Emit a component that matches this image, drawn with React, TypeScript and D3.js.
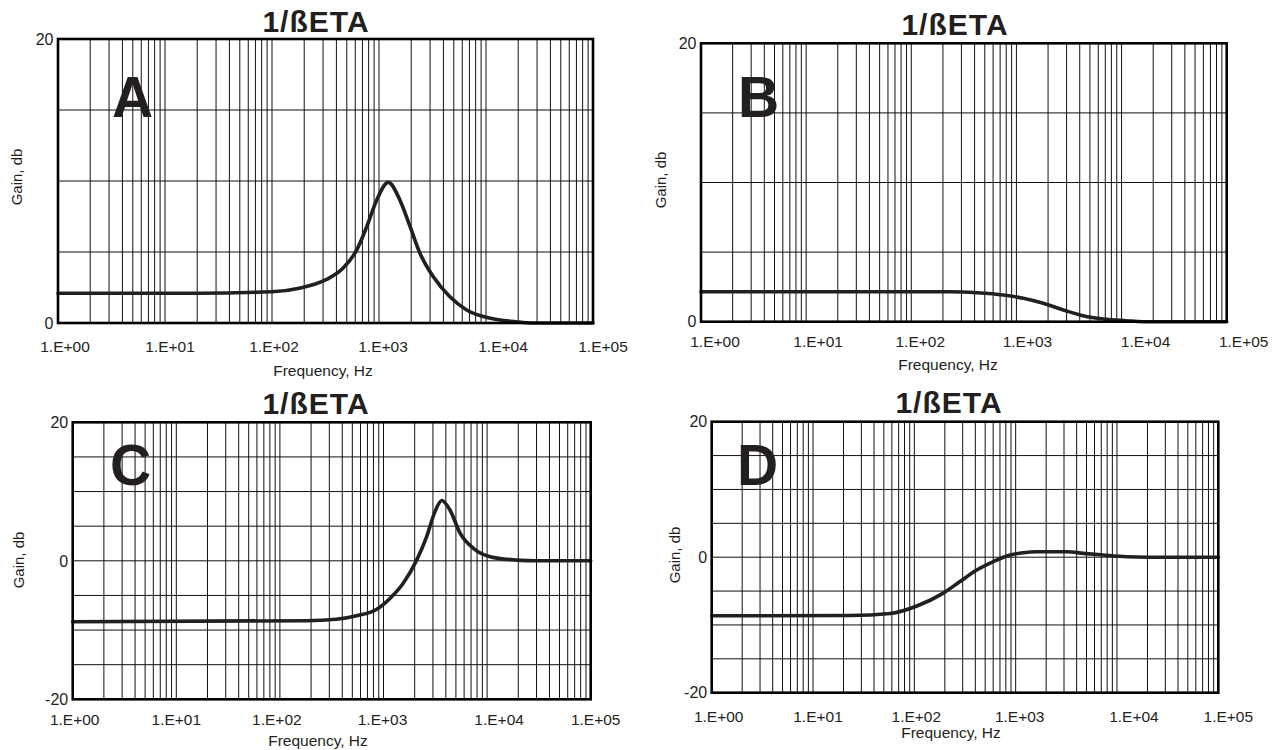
import React from "react";
import * as d3 from "d3";

// ---------- data ----------
const freqA = [1, 20, 100, 180, 320, 460, 620, 770, 950, 1220, 1570, 1950, 2420, 3220, 4600, 6600, 11000, 19000, 27000, 100000];
const gainA = [2.1, 2.1, 2.2, 2.45, 3.05, 3.85, 5.15, 6.8, 8.65, 9.9, 8.65, 6.8, 4.9, 3.25, 1.85, 0.92, 0.33, 0.09, 0, 0];

const freqB = [1, 230, 420, 750, 1160, 1800, 2800, 4300, 6700, 11000, 16000, 100000];
const gainB = [2.15, 2.15, 2.08, 1.92, 1.68, 1.32, 0.84, 0.43, 0.19, 0.07, 0, 0];

const freqC = [1, 180, 350, 550, 860, 1160, 1550, 2090, 2610, 3140, 3650, 4390, 5480, 7370, 10700, 19300, 30000, 100000];
const gainC = [-8.8, -8.65, -8.45, -7.95, -7.0, -5.4, -3.25, 0.1, 3.5, 7.1, 8.7, 7.3, 4.0, 1.8, 0.6, 0.1, 0, 0];

const freqD = [1, 23, 58, 106, 193, 282, 413, 603, 880, 1190, 1610, 3190, 4660, 7350, 12500, 20000, 100000];
const gainD = [-8.65, -8.6, -8.3, -7.2, -5.3, -3.6, -1.9, -0.65, 0.32, 0.66, 0.81, 0.81, 0.57, 0.32, 0.07, 0, 0];

const xTickValues = [1, 10, 100, 1000, 10000, 100000];
const xTickLabels = ["1.E+00", "1.E+01", "1.E+02", "1.E+03", "1.E+04", "1.E+05"];
const titleText = "1/ßETA";
const xAxisTitle = "Frequency, Hz";
const yAxisTitle = "Gain, db";
const panelLetters = ["A", "B", "C", "D"];

// ---------- layout ----------
const FONT = "'Liberation Sans', Arial, Helvetica, sans-serif";
const labelNudge = [7, 5, 2, 4, 17, 10];

type Panel = {
  letter: string;
  freq: number[];
  gain: number[];
  box: [number, number, number, number]; // left, top, right, bottom
  yDomain: [number, number];
  yLabels: number[];
  titleX: number;
  titleY: number;
  letterX: number;
  letterY: number;
  tickDy: number;
  tickShift: number;
  xTitleX: number;
  xTitleY: number;
  yTitleX: number;
  yTitleY: number;
};

const panels: Panel[] = [
  {
    letter: panelLetters[0], freq: freqA, gain: gainA,
    box: [58, 39, 593, 323], yDomain: [0, 20], yLabels: [0, 20],
    titleX: 316, titleY: 31.5, letterX: 112, letterY: 117,
    tickDy: 28.5, tickShift: 0, xTitleX: 323, xTitleY: 376, yTitleX: 22, yTitleY: 177,
  },
  {
    letter: panelLetters[1], freq: freqB, gain: gainB,
    box: [701, 43.3, 1226.7, 321.7], yDomain: [0, 20], yLabels: [0, 20],
    titleX: 955, titleY: 35, letterX: 738, letterY: 116.5,
    tickDy: 25, tickShift: 7, xTitleX: 948, xTitleY: 369.5, yTitleX: 666, yTitleY: 180,
  },
  {
    letter: panelLetters[2], freq: freqC, gain: gainC,
    box: [72.7, 422.3, 590.7, 699.3], yDomain: [-20, 20], yLabels: [-20, 0, 20],
    titleX: 316, titleY: 414, letterX: 110, letterY: 485,
    tickDy: 25.5, tickShift: -5, xTitleX: 318, xTitleY: 746, yTitleX: 24, yTitleY: 560,
  },
  {
    letter: panelLetters[3], freq: freqD, gain: gainD,
    box: [711.7, 421.7, 1218.3, 692.7], yDomain: [-20, 20], yLabels: [-20, 0, 20],
    titleX: 949, titleY: 413.3, letterX: 737, letterY: 485,
    tickDy: 29, tickShift: 0, xTitleX: 951, xTitleY: 738, yTitleX: 680, yTitleY: 555,
  },
];

function minorGrid(): number[] {
  const vals: number[] = [];
  for (let d = 0; d < 5; d++) {
    for (let k = 1; k <= 9; k++) vals.push(k * Math.pow(10, d));
  }
  vals.push(100000);
  return vals;
}

function ChartPanel({ p }: { p: Panel }) {
  const [l, t, r, b] = p.box;
  const x = d3.scaleLog().domain([1, 100000]).range([l, r]);
  const y = d3.scaleLinear().domain(p.yDomain).range([b, t]);
  const hGrid = d3.range(p.yDomain[0], p.yDomain[1] + 0.001, 5);
  const vGrid = minorGrid();
  const pts: [number, number][] = p.freq.map((f, i) => [x(f), y(p.gain[i])]);
  const line = d3.line<[number, number]>().x((d) => d[0]).y((d) => d[1]).curve(d3.curveMonotoneX);

  return (
    <g>
      {vGrid.map((v, i) => (
        <line key={"v" + i} x1={x(v)} x2={x(v)} y1={t} y2={b} stroke="#111" strokeWidth={1} />
      ))}
      {hGrid.map((v, i) => (
        <line key={"h" + i} x1={l} x2={r} y1={y(v)} y2={y(v)} stroke="#111" strokeWidth={1} />
      ))}
      <path d={line(pts) || ""} fill="none" stroke="#231f20" strokeWidth={3.6} strokeLinejoin="round" strokeLinecap="round" />
      <rect x={l} y={t} width={r - l} height={b - t} fill="none" stroke="#000" strokeWidth={2.6} />
      {p.yLabels.map((v) => (
        <text key={"yl" + v} x={l - 4.5} y={y(v)} dy="0.36em" textAnchor="end" fontSize={16} fontFamily={FONT} fill="#231f20">
          {v}
        </text>
      ))}
      {xTickValues.map((v, i) => (
        <text key={"xl" + i} x={x(v) + labelNudge[i] + p.tickShift} y={b + p.tickDy} textAnchor="middle" fontSize={15.5} fontFamily={FONT} fill="#231f20">
          {xTickLabels[i]}
        </text>
      ))}
      <text x={p.xTitleX} y={p.xTitleY} textAnchor="middle" fontSize={15.5} fontFamily={FONT} fill="#231f20">
        {xAxisTitle}
      </text>
      <text
        x={p.yTitleX}
        y={p.yTitleY}
        textAnchor="middle"
        fontSize={15}
        fontFamily={FONT}
        fill="#231f20"
        transform={`rotate(-90 ${p.yTitleX} ${p.yTitleY})`}
      >
        {yAxisTitle}
      </text>
      <text x={p.titleX} y={p.titleY} textAnchor="middle" fontSize={30} letterSpacing={1} fontWeight="bold" fontFamily={FONT} fill="#231f20">
        {titleText}
      </text>
      <text x={p.letterX} y={p.letterY} fontSize={57} fontWeight="bold" fontFamily={FONT} fill="#231f20">
        {p.letter}
      </text>
    </g>
  );
}

export default function App() {
  return (
    <svg
      width={1275}
      height={750}
      style={{ position: "absolute", left: 0, top: 0, background: "#fff" }}
    >
      <rect x={0} y={0} width={1275} height={750} fill="#fff" />
      {panels.map((p) => (
        <ChartPanel key={p.letter} p={p} />
      ))}
    </svg>
  );
}
